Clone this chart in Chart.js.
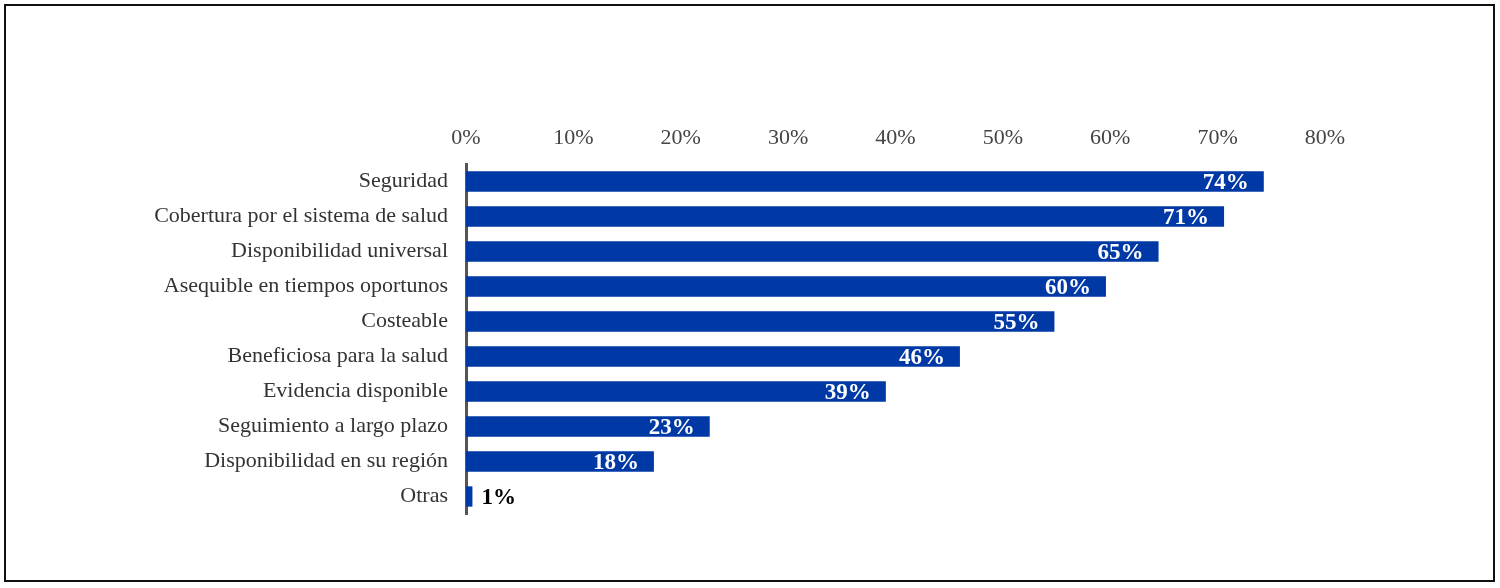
<!DOCTYPE html>
<html>
<head>
<meta charset="utf-8">
<script src="https://cdn.jsdelivr.net/npm/chart.js@4.4.1/dist/chart.umd.min.js"></script>
<style>
  html, body { margin: 0; padding: 0; background: #fff; }
  #wrap { position: relative; width: 1500px; height: 588px; }
  #frame { position: absolute; left: 4px; top: 4px; width: 1487px; height: 574px; border: 2px solid #111; box-sizing: content-box; pointer-events: none; }
  canvas { position: absolute; left: 0; top: 0; }
</style>
</head>
<body>
<div id="wrap">
  <canvas id="cv" width="1500" height="588"></canvas>
  <div id="frame"></div>
</div>
<script>
// categories, top to bottom
const categories = [
  "Seguridad",
  "Cobertura por el sistema de salud",
  "Disponibilidad universal",
  "Asequible en tiempos oportunos",
  "Costeable",
  "Beneficiosa para la salud",
  "Evidencia disponible",
  "Seguimiento a largo plazo",
  "Disponibilidad en su región",
  "Otras"
];
// bar lengths (%)
const values = [74.3, 70.6, 64.5, 59.6, 54.8, 46.0, 39.1, 22.7, 17.5, 0.6];
// printed labels
const valueLabels = ["74%", "71%", "65%", "60%", "55%", "46%", "39%", "23%", "18%", "1%"];
const tickValues = [0, 10, 20, 30, 40, 50, 60, 70, 80];

const SERIF = "'Liberation Serif', 'Times New Roman', serif";
const BLUE = "#0039A6";

// value labels: white inside the bar end, black outside for tiny bars
const barLabels = {
  id: "barLabels",
  afterDatasetsDraw(chart) {
    const ctx = chart.ctx;
    const meta = chart.getDatasetMeta(0);
    ctx.save();
    ctx.font = "bold 23px " + SERIF;
    ctx.textBaseline = "middle";
    meta.data.forEach((bar, i) => {
      const txt = valueLabels[i];
      if (values[i] < 5) {
        ctx.fillStyle = "#000";
        ctx.textAlign = "left";
        ctx.fillText(txt, bar.x + 9, bar.y + 2);
      } else {
        ctx.fillStyle = "#fff";
        ctx.textAlign = "right";
        ctx.fillText(txt, bar.x - 15, bar.y + 2);
      }
    });
    ctx.restore();
  }
};

new Chart(document.getElementById("cv"), {
  type: "bar",
  data: {
    labels: categories,
    datasets: [{ data: values, backgroundColor: BLUE, borderWidth: 0,
      categoryPercentage: 1, barPercentage: 0.58 }]
  },
  options: {
    indexAxis: "y",
    responsive: false,
    animation: false,
    layout: { padding: { left: 0, top: 119, right: 175, bottom: 74 } },
    plugins: { legend: { display: false }, tooltip: { enabled: false } },
    scales: {
      x: {
        position: "top",
        min: 0, max: 80,
        afterBuildTicks(s) { s.ticks = tickValues.map(v => ({ value: v })); },
        afterFit(s) { s.height = 45; },
        grid: { display: false, drawTicks: false },
        border: { display: false },
        ticks: { color: "#444", font: { family: SERIF, size: 22 }, padding: 13,
          maxRotation: 0, callback: v => v + "%" }
      },
      y: {
        afterFit(s) { s.width = 466; },
        grid: { display: false, drawTicks: false },
        border: { display: true, color: "#555", width: 3 },
        ticks: { color: "#333", font: { family: SERIF, size: 22 }, padding: 18 }
      }
    }
  },
  plugins: [barLabels]
});
</script>
</body>
</html>
